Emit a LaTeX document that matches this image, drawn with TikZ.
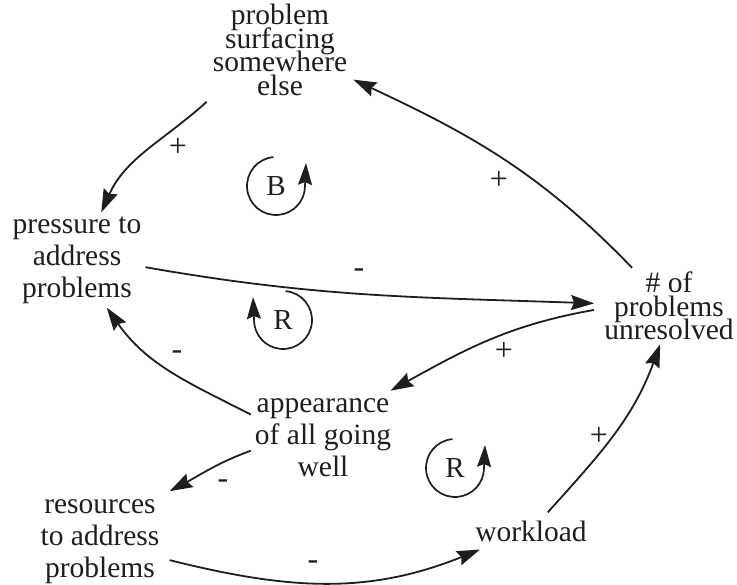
\documentclass[tikz,border=0pt]{standalone}
\usepackage{fontspec}
\setmainfont{Liberation Serif}
\usetikzlibrary{arrows.meta}
\definecolor{ink}{RGB}{30,30,30}
\newcommand\tightfnt{\fontsize{29.5}{23.5}\selectfont\lineskiplimit=-100pt\relax\lineskip=0pt\relax}
\newcommand\loosefnt{\fontsize{29.5}{32}\selectfont\lineskiplimit=-100pt\relax\lineskip=0pt\relax}
\tikzset{
  var/.style={align=center, text=ink, inner sep=4pt},
  tight/.style={font=\tightfnt},
  loose/.style={font=\loosefnt},
  link/.style={draw=ink, line width=1.8pt, -{Stealth[length=23pt,width=15pt,inset=3pt]}},
  pol/.style={text=ink, font=\fontsize{32}{32}\selectfont, inner sep=0pt},
  loopname/.style={text=ink, font=\fontsize{29}{29}\selectfont, inner sep=0pt},
  looparc/.style={draw=ink, line width=1.7pt, -{Stealth[length=22pt,width=14pt,inset=3pt]}}
}
\begin{document}
\begin{tikzpicture}[x=1pt,y=1pt]
\useasboundingbox (0,0) rectangle (737,585);
% variables
\node[var,tight,inner sep=6pt] (top) at (280,535) {problem\\surfacing\\somewhere\\else};
\node[var,loose] (pres) at (77,325) {pressure to\\address\\problems};
\node[var,tight,inner xsep=10pt] (num) at (669,279) {\# of\\problems\\unresolved};
\node[var,loose,inner ysep=8pt] (app) at (323,147) {appearance\\of all going\\well};
\node[var,loose,inner xsep=10pt,inner ysep=8pt] (res) at (100,43.5) {resources\\to address\\problems};
\node[var,loose,inner ysep=8pt] (work) at (531,54) {workload};
% links
\draw[link] (top.south west) to[out=222,in=66] (pres.63);
\draw[link] (num.134) to[out=134,in=-25] (top.-22);
\draw[link] (pres.-6) to[out=-10,in=178] (num.178);
\draw[link] (num.183) to[out=190,in=29] (app.35);
\draw[link] (app.162) to[out=153,in=-55] (pres.-58);
\draw[link] (app.-170) to[out=200,in=28] (res.north east);
\draw[link] (res.-15) to[out=-14,in=-158] (work.-160);
\draw[link] (work.48) to[out=48,in=-110] (num.-103);
% polarities
\node[pol] (p1) at (178,438) {+};
\node[pol] (p2) at (499,405) {+};
\node[pol] (p3) at (359,312) {-};
\node[pol] (p4) at (504,234) {+};
\node[pol] (p5) at (177,230) {-};
\node[pol] (p6) at (223,101) {-};
\node[pol] (p7) at (313,20) {-};
\node[pol] (p8) at (599,149) {+};
% loops
\node[loopname] (lB) at (276,399) {B};
\draw[looparc] ([shift={(95:29)}]lB.center) arc[start angle=95,end angle=360,radius=29] -- ++(1,23);
\node[loopname] (lR1) at (283,265) {R};
\draw[looparc] ([shift={(85:29)}]lR1.center) arc[start angle=85,end angle=-180,radius=29] -- ++(-1,23);
\node[loopname] (lR2) at (455,117) {R};
\draw[looparc] ([shift={(95:29)}]lR2.center) arc[start angle=95,end angle=360,radius=29] -- ++(1,23);
\end{tikzpicture}
\end{document}
